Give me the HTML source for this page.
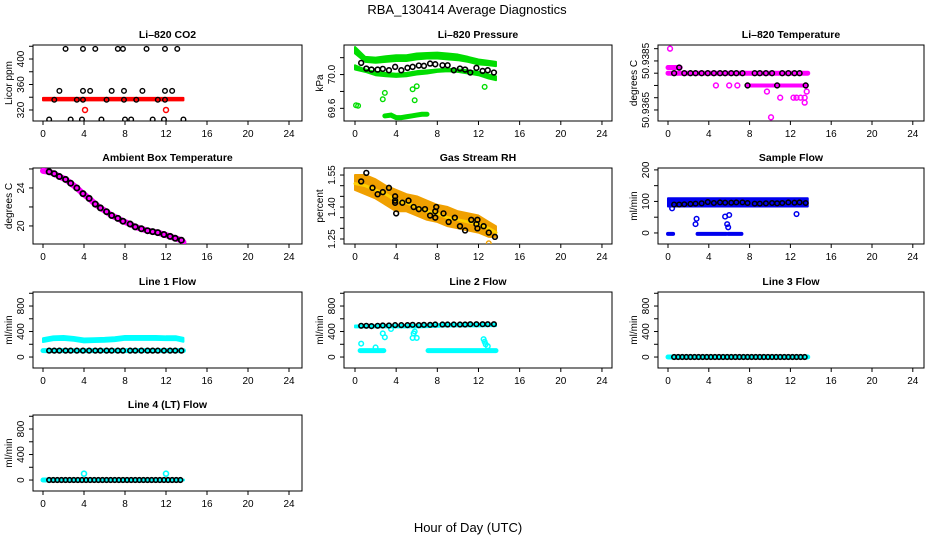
<!DOCTYPE html>
<html><head><meta charset="utf-8"><style>
html,body{margin:0;padding:0;background:#fff;}
svg{display:block;font-family:"Liberation Sans",Arial,sans-serif;}
</style></head><body>
<svg id="c" width="936" height="540" viewBox="0 0 936 540">
<text x="467" y="14" font-size="13" text-anchor="middle">RBA_130414  Average Diagnostics</text>
<text x="468" y="532" font-size="13" text-anchor="middle">Hour of Day (UTC)</text>
</svg>
<script>
// ---- data arrays ----
const xTicks = [0,4,8,12,16,20,24];
const tBlack = [0.6,1.1,1.6,2.2,2.7,3.3,3.9,4.5,5.1,5.6,6.2,6.7,7.3,7.8,8.5,9.0,9.6,10.2,10.7,11.2,11.8,12.4,12.9,13.5];
const tBand = [0,1,2,3,4,5,6,7,8,9,10,11,12,13,13.7];
const tDense = [0.6,1.0,1.4,1.8,2.2,2.6,3.0,3.4,3.8,4.2,4.6,5.0,5.4,5.8,6.2,6.6,7.0,7.4,7.8,8.2,8.6,9.0,9.4,9.8,10.2,10.6,11.0,11.4,11.8,12.2,12.6,13.0,13.4];

// CO2
const co2T = [2.2,3.9,5.1,7.3,7.8,10.1,11.9,13.1, 1.6,3.9,4.6,6.7,7.9,9.7,11.9,12.6, 1.1,3.3,3.9,6.2,7.9,9.1,11.2,11.9, 0.6,2.7,3.8,5.7,8.0,8.6,10.7,11.8,13.7];
const co2V = [416,416,416,416,416,416,416,416, 350,350,350,350,350,350,350,350, 336,336,336,336,336,336,336,336, 305,305,305,305,305,305,305,305,305];
const co2RedBandLo = [335,335,335,335,335,335,335,335,335,335,335,335,335,335,335];
const co2RedBandHi = [339,339,339,339,339,339,339,339,339,339,339,339,339,339,339];
const co2RedT = [4.1,12.0];
const co2RedV = [320,320];

// Pressure
const prUpperHi = [70.327,70.209,70.201,70.217,70.229,70.229,70.249,70.256,70.260,70.249,70.237,70.209,70.178,70.162,70.150];
const prUpperLo = [70.25,70.15,70.14,70.15,70.16,70.16,70.18,70.19,70.19,70.18,70.17,70.15,70.12,70.11,70.10];
const prLowerHi = [70.11,70.06,70.03,70.02,70.01,70.02,70.04,70.05,70.06,70.07,70.06,70.05,70.03,70.00,69.98];
const prLowerLo = [70.06,70.032,69.992,69.980,69.972,69.980,70.0,70.012,70.032,70.039,70.032,70.012,69.992,69.953,69.933];
const prBlackV = [70.138,70.071,70.059,70.059,70.067,70.051,70.091,70.051,70.079,70.091,70.107,70.103,70.130,70.122,70.110,70.110,70.051,70.071,70.059,70.024,70.079,70.043,70.051,70.024];
const prLowT = [2.9,3.5,4.0,4.5,5.0,5.5,6.0,6.5,7.0];
const prLowV = [69.51,69.52,69.49,69.49,69.50,69.51,69.52,69.53,69.53];
const prOutT = [0.1,0.3,2.7,2.9,5.6,5.8,6.0,12.6];
const prOutV = [69.637,69.63,69.708,69.783,69.826,69.696,69.862,69.854];

// Temperature
const tpMainT = [0,13.7];
const tpMainV = [50.9380,50.9380];
const tpHiT = [0,1.2];
const tpHiV = [50.93823,50.93823];
const tpMidT = [7.8,13.6];
const tpMidV = [50.9375,50.9375];
const tpOutT = [0.2,4.7,6.0,6.8,9.7,11.0,12.3,12.6,13.0,13.4,13.6,13.4,10.1];
const tpOutV = [50.9390,50.9375,50.9375,50.9375,50.93725,50.9370,50.9370,50.9370,50.9370,50.9370,50.93725,50.9368,50.9362];
const tpBlackV = [50.9380,50.93823,50.9380,50.9380,50.9380,50.9380,50.9380,50.9380,50.9380,50.9380,50.9380,50.9380,50.9380,50.9375,50.9380,50.9380,50.9380,50.9380,50.9375,50.9380,50.9380,50.9380,50.9380,50.9375];

// Ambient box temperature
const ambT = [0,0.6,1.1,1.6,2.2,2.7,3.3,3.9,4.5,5.1,5.6,6.2,6.7,7.3,7.8,8.5,9.0,9.6,10.2,10.7,11.2,11.8,12.4,12.9,13.5,13.7];
const ambV = [25.8,25.7,25.5,25.2,24.9,24.5,24.0,23.4,22.9,22.3,21.9,21.5,21.1,20.8,20.5,20.2,19.9,19.7,19.5,19.4,19.3,19.1,18.9,18.7,18.5,18.3];

// Gas stream RH
const rhMid = [1.51,1.50,1.48,1.46,1.43,1.42,1.40,1.38,1.37,1.35,1.34,1.33,1.32,1.30,1.28];
const rhLo = [1.48,1.46,1.44,1.41,1.38,1.38,1.36,1.34,1.33,1.31,1.30,1.29,1.28,1.26,1.26];
const rhHi = [1.55,1.55,1.53,1.50,1.48,1.46,1.45,1.43,1.41,1.40,1.38,1.37,1.36,1.33,1.31];
const rhBlackT = [0.6,1.1,1.7,2.2,2.7,3.3,3.9,3.9,3.9,4.0,4.6,5.2,5.7,6.2,6.8,7.3,7.8,7.9,7.8,8.6,9.1,9.7,10.2,10.7,11.3,11.8,11.9,11.9,12.5,13.0,13.6];
const rhBlackV = [1.52,1.56,1.49,1.46,1.47,1.49,1.45,1.42,1.43,1.37,1.42,1.43,1.40,1.39,1.39,1.36,1.35,1.40,1.38,1.37,1.33,1.35,1.31,1.29,1.34,1.32,1.30,1.34,1.31,1.28,1.26];
const rhOutT = [13.0];
const rhOutV = [1.23];

// Sample flow
const sfBandLo = [84,84,84,84,84,84,84,84,84,84,84,84,84,84,84];
const sfBandHi = [110,110,110,110,110,110,110,110,110,110,110,110,110,110,110];
const sfZeroT = [0,0.5,2.9,5.7,5.9,7.2];
const sfZeroV = [-3,-3,-3,-3,-3,-3];
const sfOutT = [0.4,2.7,2.8,5.6,5.8,5.9,6.0,12.6];
const sfOutV = [78,28,45,52,28,18,57,60];
const sfBlackV = [90,90,91,92,93,94,98,95,97,96,96,97,97,95,93,93,94,95,94,95,97,96,97,95];

// Line 1 flow
const l1UpperLo = [235,265,270,255,230,235,240,250,270,270,270,270,265,265,240];
const l1UpperHi = [295,325,330,315,290,295,300,310,330,330,330,330,325,325,300];
const l1Lower = [100,100,100,100,100,100,100,100,100,100,100,100,100,100,100];
const l1BlackV = [100,100,100,100,100,100,100,100,100,100,100,100,100,100,100,100,100,100,100,100,100,100,100,100];

// Line 2 flow
const l2UpperLo = [465,465,465,465,465,465,465,470,475,480,480,480,480,485,485];
const l2UpperHi = [495,495,500,500,500,505,505,510,515,520,520,520,520,520,520];
const l2LowT1 = [0.5,2.8];
const l2LowT2 = [7.1,13.7];
const l2LowV = [100,100];
const l2OutT = [0.6,2.0,2.7,2.9,3.5,5.6,5.7,5.8,6.0,12.5,12.6,12.7,12.9];
const l2OutV = [210,150,370,310,440,300,370,400,300,280,240,200,170];
const l2BlackV = [490,490,485,490,495,495,500,500,500,505,500,505,505,510,510,510,510,510,510,515,515,515,515,515];

// Line 3 / Line 4 flow
const l3CyanT = [0,13.7];
const l3CyanV = [0,0];
const l3BlackV = [0,0,0,0,0,0,0,0,0,0,0,0,0,0,0,0,0,0,0,0,0,0,0,0,0,0,0,0,0,0,0,0,0];
const l4CyanT = [0,0.3];
const l4CyanV = [0,0];
const l4OutT = [4.0,12.0];
const l4OutV = [100,100];
const l4BlackV = [0,0,0,0,0,0,0,0,0,0,0,0,0,0,0,0,0,0,0,0,0,0,0,0,0,0,0,0,0,0,0,0,0];

// ---- layout ----
const NS='http://www.w3.org/2000/svg';
const svg=document.getElementById('c');
const cols=[{l:33,r:302,x0:43,k:10.25},{l:344,r:612,x0:355,k:10.29},{l:658,r:924,x0:668,k:10.2}];
const rows=[45,168,292,415];
const H=76;
function mk(tag,attrs,parent){const e=document.createElementNS(NS,tag);for(const a in attrs)e.setAttribute(a,attrs[a]);(parent||svg).appendChild(e);return e;}

function panel(ci,ri,name,title,ylab,ymin,ymax,yticks,ylabels){
  const c=cols[ci],top=rows[ri],bot=top+H;
  const g=mk('g',{});
  
  
  const sx=t=>c.x0+t*c.k;
  const sy=v=>top+(ymax-v)/(ymax-ymin)*H;
  const box=mk('rect',{x:c.l,y:top,width:c.r-c.l,height:H,fill:'none',stroke:'#000','stroke-width':1},g);
  
  
  const tt=mk('text',{x:(c.l+c.r)/2,y:top-7,'font-size':10.5,'font-weight':'bold','text-anchor':'middle'},g);
  tt.textContent=title;
  
  
  const yt=mk('text',{transform:`translate(${c.l-21},${(top+bot)/2}) rotate(-90)`,'font-size':10,'text-anchor':'middle'},g);
  yt.textContent=ylab;
  
  
  mk('line',{x1:sx(xTicks[0]),x2:sx(xTicks[xTicks.length-1]),y1:bot,y2:bot,stroke:'#000'},g);
  xTicks.forEach(t=>{
    mk('line',{x1:sx(t),x2:sx(t),y1:bot,y2:bot+4,stroke:'#000'},g);
    const l=mk('text',{x:sx(t),y:bot+16,'font-size':10,'text-anchor':'middle'},g);
    l.textContent=t;
    
    
  });
  mk('line',{x1:c.l,x2:c.l,y1:sy(yticks[0]),y2:sy(yticks[yticks.length-1]),stroke:'#000'},g);
  yticks.forEach(v=>mk('line',{x1:c.l-4,x2:c.l,y1:sy(v),y2:sy(v),stroke:'#000'},g));
  ylabels.forEach(v=>{
    const l=mk('text',{transform:`translate(${c.l-9},${sy(Number(v))}) rotate(-90)`,'font-size':10,'text-anchor':'middle'},g);
    l.textContent=String(v);
    
    
  });
  const clip=mk('clipPath',{id:'cl'+name},g);
  mk('rect',{x:c.l,y:top,width:c.r-c.l,height:H},clip);
  const pg=mk('g',{'clip-path':`url(#cl${name})`},g);
  
  
  return {
    pts(ts,vs,color,r,sw){ts.forEach((t,i)=>{const e=mk('circle',{cx:sx(t),cy:sy(vs[i]),r:r||2.3,fill:'none',stroke:color,'stroke-width':sw||1.4},pg);});},
    band(ts,lo,hi,color){let d='M'+ts.map((t,i)=>sx(t)+','+sy(hi[i])).join('L')+'L'+ts.map((t,i)=>[t,i]).reverse().map(([t,i])=>sx(t)+','+sy(lo[i])).join('L')+'Z';
      const e=mk('path',{d,fill:color,stroke:color,'stroke-width':2,'stroke-linejoin':'round'},pg);},
    line(ts,vs,color,w){const e=mk('polyline',{points:ts.map((t,i)=>sx(t)+','+sy(vs[i])).join(' '),fill:'none',stroke:color,'stroke-width':w||5,'stroke-linecap':'round'},pg);}
  };
}

let p=panel(0,0,'co2','Li\u2013820 CO2','Licor ppm',302.7,422,[320,340,360,380,400,420],['320','360','400']);
p.band(tBand,co2RedBandLo,co2RedBandHi,'#ff0000');
p.pts(co2RedT,co2RedV,'#ff0000',2.5,1.5);
p.pts(co2T,co2V,'#000',2.3,1.4);

p=panel(1,0,'pressure','Li\u2013820 Pressure','kPa',69.45,70.35,[69.6,69.8,70.0,70.2],['69.6','70.0']);
p.band(tBand,prUpperLo,prUpperHi,'#00dd00');
p.band(tBand,prLowerLo,prLowerHi,'#00dd00');
p.line(prLowT,prLowV,'#00dd00',5);
p.pts(prOutT,prOutV,'#00dd00',2.3,1.4);
p.pts(tBlack,prBlackV,'#000',2.4,1.6);

p=panel(2,0,'temperature','Li\u2013820 Temperature','degrees C',50.93605,50.93915,[50.9390,50.9385,50.9380,50.9375,50.9370,50.9365],['50.9385','50.9365']);
p.line(tpMainT,tpMainV,'#ff00ff',5);
p.line(tpHiT,tpHiV,'#ff00ff',5);
p.line(tpMidT,tpMidV,'#ff00ff',4);
p.pts(tpOutT,tpOutV,'#ff00ff',2.4,1.5);
p.pts(tBlack,tpBlackV,'#000',2.4,1.5);

p=panel(0,1,'ambient','Ambient Box Temperature','degrees C',18.1,26.1,[20,22,24,26],['20','24']);
p.line(ambT,ambV,'#ff00ff',6);
p.pts(tBlack,ambV.slice(1,25),'#000',2.6,1.8);

p=panel(1,1,'gas-rh','Gas Stream RH','percent',1.2265,1.583,[1.25,1.30,1.35,1.40,1.45,1.50,1.55],['1.25','1.40','1.55']);
p.band(tBand,rhLo,rhHi,'#f0a000');
p.line(tBand,rhMid,'#ffd000',3);
p.pts(rhOutT,rhOutV,'#f0a000',2.3,1.4);
p.pts(rhBlackT,rhBlackV,'#000',2.4,1.6);

p=panel(2,1,'sample-flow','Sample Flow','ml/min',-35,206,[0,50,100,150,200],['0','100','200']);
p.band(tBand,sfBandLo,sfBandHi,'#0000ee');
p.line(sfZeroT.slice(0,2),sfZeroV.slice(0,2),'#0000ee',4);
p.line(sfZeroT.slice(2,4),sfZeroV.slice(2,4),'#0000ee',4);
p.line(sfZeroT.slice(4,6),sfZeroV.slice(4,6),'#0000ee',4);
p.pts(sfOutT,sfOutV,'#0000ee',2.3,1.5);
p.pts(tBlack,sfBlackV,'#000',2.3,1.5);

const flowTicks=[0,200,400,600,800,1000], flowLabels=['0','400','800'];
p=panel(0,2,'line1-flow','Line 1 Flow','ml/min',-172,1020,flowTicks,flowLabels);
p.band(tBand,l1UpperLo,l1UpperHi,'#00ffff');
p.line(tBand,l1Lower,'#00ffff',5);
p.pts(tBlack,l1BlackV,'#000',2.3,1.6);

p=panel(1,2,'line2-flow','Line 2 Flow','ml/min',-172,1020,flowTicks,flowLabels);
p.band(tBand,l2UpperLo,l2UpperHi,'#00ffff');
p.line(l2LowT1,l2LowV,'#00ffff',5);
p.line(l2LowT2,l2LowV,'#00ffff',5);
p.pts(l2OutT,l2OutV,'#00ffff',2.3,1.5);
p.pts(tBlack,l2BlackV,'#000',2.3,1.6);

p=panel(2,2,'line3-flow','Line 3 Flow','ml/min',-172,1020,flowTicks,flowLabels);
p.line(l3CyanT,l3CyanV,'#00ffff',5);
p.pts(tDense,l3BlackV,'#000',2.3,1.6);

p=panel(0,3,'line4-flow','Line 4 (LT) Flow','ml/min',-172,1020,flowTicks,flowLabels);
p.line(l4CyanT,l4CyanV,'#00ffff',5);
p.pts(l4OutT,l4OutV,'#00ffff',2.5,1.6);
p.line(l3CyanT,l3CyanV,'#00ffff',3);
p.pts(tDense,l4BlackV,'#000',2.3,1.6);
</script>
</body></html>
